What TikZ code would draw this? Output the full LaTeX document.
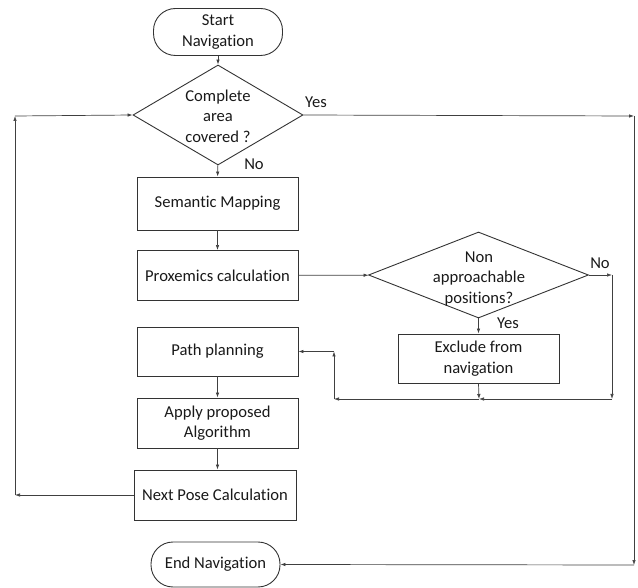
\documentclass[tikz,border=0pt]{standalone}
\usepackage{fontspec}
\setmainfont{Carlito}[Ligatures=NoCommon]
\usetikzlibrary{shapes.geometric,arrows.meta}
\begin{document}
\begin{tikzpicture}[x=1pt,y=-1pt,
  every node/.style={font=\fontsize{16.6}{20.5}\selectfont, text=black!90},
  box/.style={draw=black!80, line width=0.9pt, rectangle, minimum width=161pt, align=center, inner sep=2pt},
  term/.style={draw=black!80, line width=0.9pt, rectangle, rounded corners=22pt, minimum width=129pt, align=center, inner sep=2pt},
  dec/.style={draw=black!80, line width=0.9pt, diamond, inner sep=0pt},
  dectext/.style={align=center, inner sep=0pt},
  conn/.style={draw=black!75, line width=0.7pt, -{Latex[length=5pt,width=3.5pt]}},
  lbl/.style={inner sep=0pt}]
\useasboundingbox (0,0) rectangle (638,588);
\node[term, minimum height=47pt] (start) at (218,32) {Start\\Navigation};
\node[dec, minimum width=170pt, minimum height=100pt] (d1) at (218,115) {};
\node[dectext] (d1t) at (218,116) {Complete\\area\\covered ?};
\node[box, minimum height=53pt] (sem) at (217.5,203.5) {Semantic Mapping};
\node[box, minimum height=50pt] (prox) at (217.5,275.5) {Proxemics calculation};
\node[dec, minimum width=220pt, minimum height=86pt] (d2) at (478.5,275) {};
\node[dectext] (d2t) at (479,279) {Non\\approachable\\positions?};
\node[box, minimum height=49pt] (excl) at (478.5,358.5) {Exclude from\\navigation};
\node[box, minimum height=49pt] (path) at (217.5,351.5) {Path planning};
\node[box, minimum height=50pt] (apply) at (217.5,423) {Apply proposed\\Algorithm};
\node[box, minimum height=50pt, minimum width=162pt] (next) at (215,495) {Next Pose Calculation};
\node[term, minimum height=45pt] (end) at (215.5,564.5) {End Navigation};
\node[lbl] (yes1) at (316,102) {Yes};
\node[lbl] (no1) at (254,164) {No};
\node[lbl] (no2) at (600,263) {No};
\node[lbl] (yes2) at (508,323) {Yes};
\coordinate (y1) at (634,116);
\coordinate (y2) at (634,565);
\coordinate (l1) at (15,495);
\coordinate (l2) at (15,116);
\coordinate (n1) at (612,275);
\coordinate (j1) at (612,399);
\coordinate (j2) at (479,399);
\coordinate (j3) at (334,399);
\coordinate (j4) at (334,351.5);
\draw[conn] (start) -- (d1);
\draw[conn] (d1) -- (sem);
\draw[conn] (sem) -- (prox);
\draw[conn] (prox) -- (d2);
\draw[conn] (d2) -- (excl);
\draw[conn] (path) -- (apply);
\draw[conn] (apply.south) -- (next.north -| apply.south);
\draw[conn] (d1.east) -- (y1);
\draw[conn] (y1) -- (y2);
\draw[conn] (y2) -- (end.east);
\draw[conn] (next.west) -- (l1);
\draw[conn] (l1) -- (l2);
\draw[conn] (l2) -- (d1.west);
\draw[conn] (d2.east) -- (n1);
\draw[conn] (n1) -- (j1);
\draw[conn] (j1) -- (j2);
\draw[conn] (excl.south) -- (j2);
\draw[conn] (j2) -- (j3);
\draw[conn] (j3) -- (j4);
\draw[conn] (j4) -- (path.east);
\end{tikzpicture}
\end{document}
